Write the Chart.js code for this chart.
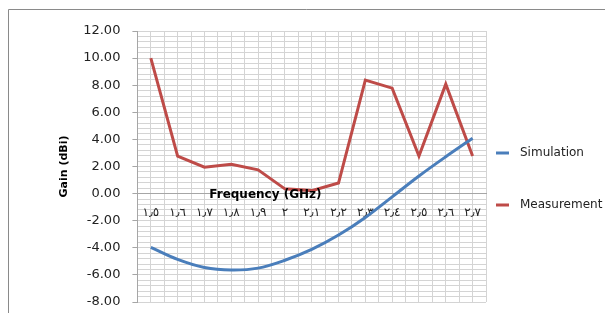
<!DOCTYPE html>
<html>
<head>
<meta charset="utf-8">
<script src="https://cdn.jsdelivr.net/npm/chart.js@4"></script>
<style>
  html, body { margin: 0; padding: 0; background: #fff; overflow: hidden; }
  canvas { display: block; }
</style>
</head>
<body>
<canvas id="chart" width="605" height="313"></canvas>
<script>
// frequency labels (GHz), written in Arabic-Indic digits as in the original
const freqLabels = ['١٫٥', '١٫٦', '١٫٧', '١٫٨', '١٫٩', '٢', '٢٫١', '٢٫٢', '٢٫٣', '٢٫٤', '٢٫٥', '٢٫٦', '٢٫٧'];

// gain values (dBi)
const simulation = [-3.96, -4.85, -5.45, -5.64, -5.5, -4.92, -4.12, -3.06, -1.76, -0.24, 1.3, 2.72, 4.08];
const measurement = [10.0, 2.77, 1.95, 2.16, 1.75, 0.35, 0.22, 0.78, 8.38, 7.78, 2.77, 8.08, 2.77];

const seriesNames = ['Simulation', 'Measurement'];
const seriesColors = ['#4a7ebb', '#be4b48'];

const gridColor = '#d4d4d4';

// outer chart border (left and top edges show in the picture)
const frame = {
  id: 'frame',
  beforeDraw(chart) {
    const ctx = chart.ctx;
    ctx.save();
    ctx.strokeStyle = '#8a8a8a';
    ctx.lineWidth = 1;
    ctx.beginPath();
    ctx.moveTo(8.5, chart.height);
    ctx.lineTo(8.5, 9.5);
    ctx.lineTo(chart.width, 9.5);
    ctx.stroke();
    ctx.restore();
  }
};

// x axis title and right-hand legend, drawn after the chart
const extras = {
  id: 'extras',
  afterDraw(chart) {
    const ctx = chart.ctx;
    const area = chart.chartArea;
    const y0 = chart.scales.y.getPixelForValue(0);
    ctx.save();
    ctx.fillStyle = '#000';
    ctx.font = 'bold 12px "DejaVu Sans"';
    ctx.textAlign = 'center';
    ctx.textBaseline = 'alphabetic';
    ctx.fillText('Frequency (GHz)', area.left + 128, y0 + 4);

    // legend
    const legendY = [153, 205];
    ctx.font = '12px "DejaVu Sans"';
    ctx.textAlign = 'left';
    ctx.textBaseline = 'middle';
    chart.data.datasets.forEach((ds, i) => {
      const x = area.right + 10;
      ctx.strokeStyle = ds.borderColor;
      ctx.lineWidth = 3;
      ctx.beginPath();
      ctx.moveTo(x, legendY[i]);
      ctx.lineTo(x + 13, legendY[i]);
      ctx.stroke();
      ctx.fillStyle = '#222';
      ctx.fillText(ds.label, x + 24, legendY[i]);
    });
    ctx.restore();
  }
};

new Chart(document.getElementById('chart'), {
  type: 'line',
  data: {
    labels: freqLabels,
    datasets: [
      {
        label: seriesNames[0],
        data: simulation,
        borderColor: seriesColors[0],
        backgroundColor: seriesColors[0],
        borderWidth: 3,
        pointRadius: 0,
        tension: 0.35
      },
      {
        label: seriesNames[1],
        data: measurement,
        borderColor: seriesColors[1],
        backgroundColor: seriesColors[1],
        borderWidth: 3,
        pointRadius: 0,
        tension: 0
      }
    ]
  },
  options: {
    responsive: false,
    animation: false,
    layout: { padding: { left: 58, right: 119, top: 31, bottom: 11 } },
    plugins: {
      legend: { display: false },
      tooltip: { enabled: false }
    },
    scales: {
      x: {
        type: 'category',
        offset: true,
        position: { y: 0 },
        grid: { display: false, drawTicks: false },
        border: { display: true, color: '#a6a6a6' },
        ticks: {
          autoSkip: false,
          maxRotation: 0,
          padding: 12,
          color: '#222',
          font: { family: 'DejaVu Sans', size: 12 }
        }
      },
      xg: {
        type: 'linear',
        position: 'bottom',
        min: 0,
        max: 26,
        ticks: { display: false, stepSize: 1 },
        grid: { color: gridColor, drawTicks: false },
        border: { display: false },
        afterFit: s => { s.height = 0; }
      },
      y: {
        min: -8,
        max: 12,
        ticks: {
          stepSize: 2,
          padding: 12,
          color: '#222',
          font: { family: 'DejaVu Sans', size: 13 },
          callback: v => v.toFixed(2)
        },
        grid: { drawOnChartArea: false, tickLength: 5, color: '#a6a6a6' },
        border: { display: true, color: '#a6a6a6' },
        title: {
          display: true,
          text: 'Gain (dBi)',
          color: '#000',
          font: { family: 'DejaVu Sans', size: 11, weight: 'bold' },
          padding: { top: 0, bottom: 0 }
        },
        afterFit: s => { s.paddingTop = 8; s.paddingBottom = 8; }
      },
      yg: {
        type: 'linear',
        position: 'left',
        min: -8,
        max: 12,
        ticks: { display: false, stepSize: 0.4 },
        grid: { color: gridColor, drawTicks: false },
        border: { display: false },
        afterFit: s => { s.width = 0; }
      }
    }
  },
  plugins: [frame, extras]
});
</script>
</body>
</html>
